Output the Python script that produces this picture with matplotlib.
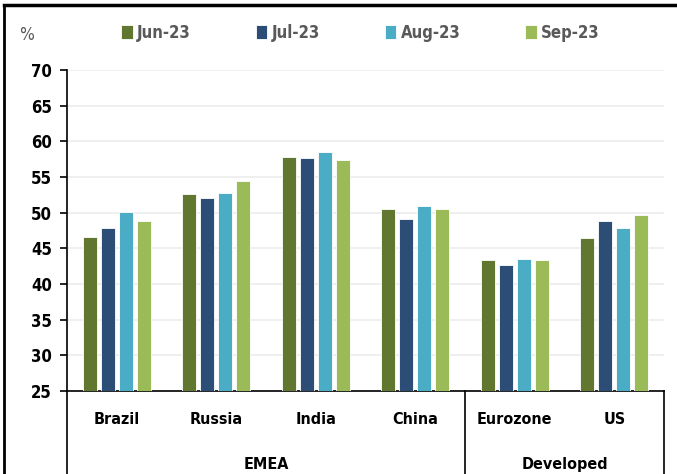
import numpy as np
import matplotlib
matplotlib.use('Agg')
import matplotlib.pyplot as plt
from matplotlib import font_manager
from matplotlib.transforms import blended_transform_factory

# Data
categories = ['Brazil', 'Russia', 'India', 'China', 'Eurozone', 'US']
groups = ['EMEA', 'Developed']
group_sizes = [4, 2]
months = ['Jun-23', 'Jul-23', 'Aug-23', 'Sep-23']
jun = [46.6, 52.6, 57.8, 50.5, 43.3, 46.4]
jul = [47.8, 52.1, 57.6, 49.1, 42.6, 48.9]
aug = [50.1, 52.7, 58.5, 50.9, 43.5, 47.8]
sep = [48.9, 54.4, 57.4, 50.5, 43.3, 49.7]
colors = ['#61762F', '#2B4D76', '#4BACC6', '#9BBB59']
y_ticks = [25, 30, 35, 40, 45, 50, 55, 60, 65, 70]

# narrow bold font if we have one
names = {f.name for f in font_manager.fontManager.ttflist}
if 'Liberation Sans Narrow' in names:
    font = dict(family='Liberation Sans Narrow')
else:
    font = dict(family='DejaVu Sans', stretch='condensed')

fig = plt.figure(figsize=(6.77, 4.74), dpi=100)
ax = fig.add_axes([67/677, 83/474, 597/677, 321/474])

series = [jun, jul, aug, sep]
x = np.arange(len(categories))
width = 0.141
step = 0.181
for i, vals in enumerate(series):
    ax.bar(x + (i - 1.5) * step, vals, width, color=colors[i],
           edgecolor='white', linewidth=0.6, label=months[i], zorder=3)

ax.set_xlim(-0.5, len(categories) - 0.5)
ax.set_ylim(25, 70)
ax.set_yticks(y_ticks)
ax.set_yticklabels([str(t) for t in y_ticks], fontsize=12,
                   fontweight='bold', **font)
ax.yaxis.grid(True, color='#ececec', linewidth=1.2, zorder=0)
ax.tick_params(axis='y', length=5, width=1.2, pad=6)
for s in ['top', 'right']:
    ax.spines[s].set_visible(False)
ax.spines['left'].set_linewidth(1.2)
ax.spines['bottom'].set_linewidth(1.2)

ax.set_xticks(x)
ax.set_xticklabels(categories, fontsize=11.5, fontweight='bold', **font)
ax.tick_params(axis='x', length=0, pad=15)

# group labels and separators below the axis
trans = blended_transform_factory(ax.transData, ax.transAxes)
start = 0
edges = [-0.5]
for g, n in zip(groups, group_sizes):
    mid = start + (n - 1) / 2
    ax.text(mid, -0.23, g, transform=trans, ha='center', va='center',
            fontsize=11.5, fontweight='bold', **font)
    start += n
    edges.append(start - 0.5)
for e in edges:
    ax.plot([e, e], [0, -0.27], transform=trans, color='black',
            linewidth=1.2, clip_on=False)

# legend and unit
leg = fig.legend(loc='center left', bbox_to_anchor=(106/677, 1 - 33/474),
                 ncol=4, frameon=False, handlelength=0.7, handleheight=0.9,
                 handletextpad=0.25, columnspacing=3.9,
                 prop=dict(size=12, weight='bold', **font))
for t in leg.get_texts():
    t.set_color('#595959')
fig.text(19/677, 1 - 35/474, '%', fontsize=12.5, color='#595959',
         va='center', **font)

# outer frame (cropped on right and bottom)
fig.add_artist(plt.Line2D([4/677, 4/677], [0, 1 - 5/474], color='black',
                          linewidth=2, transform=fig.transFigure))
fig.add_artist(plt.Line2D([4/677, 1], [1 - 5/474, 1 - 5/474], color='black',
                          linewidth=2.5, transform=fig.transFigure))

fig.savefig('out.png', dpi=100)
